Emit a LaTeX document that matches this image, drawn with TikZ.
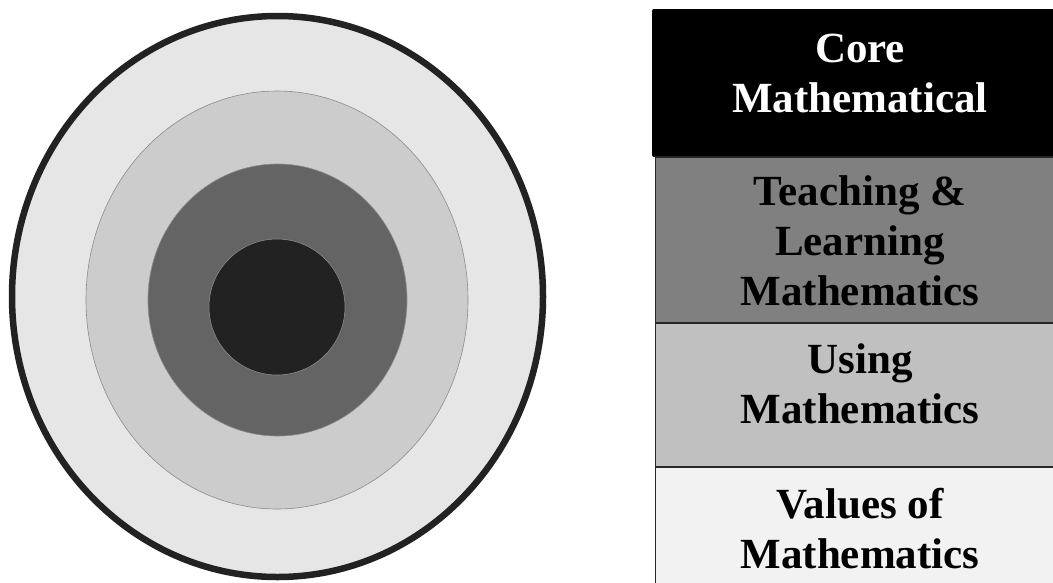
\documentclass[tikz,border=0pt]{standalone}
\usepackage{fontspec}
\setmainfont{Liberation Serif}
\definecolor{ringA}{HTML}{E6E6E6}
\definecolor{ringB}{HTML}{CCCCCC}
\definecolor{ringC}{HTML}{646464}
\definecolor{ringD}{HTML}{222222}
\definecolor{rowB}{HTML}{808080}
\definecolor{rowC}{HTML}{C0C0C0}
\definecolor{rowD}{HTML}{F2F2F2}
\begin{document}
\begin{tikzpicture}[x=1pt,y=-1pt,
  lbl/.style={inner sep=0pt, anchor=base, font=\fontsize{43}{50}\selectfont\bfseries},
  ringline/.style={draw=black!45, line width=0.6pt},
  rowbox/.style={draw=black!85, line width=1.2pt}]
\useasboundingbox (0,0) rectangle (1053,582);
\clip (0,0) rectangle (1053,582);
\fill[white] (0,0) rectangle (1053,582);
% concentric rings
\filldraw[fill=ringA, draw=ringD, line width=6.5pt] (277.5,296.5) ellipse [x radius=265.5, y radius=280.5];
\filldraw[fill=ringB, ringline] (277,300) ellipse [x radius=191, y radius=209];
\filldraw[fill=ringC, ringline] (277.5,300) ellipse [x radius=129.5, y radius=136];
\filldraw[fill=ringD, ringline] (277,307) ellipse [x radius=68, y radius=68];
% table rows
\fill[black, rounded corners=2pt] (652,9) rectangle (1075,157);
\filldraw[fill=rowB, rowbox] (655.5,157) rectangle (1075,323);
\filldraw[fill=rowC, rowbox] (655.5,323) rectangle (1075,467);
\filldraw[fill=rowD, rowbox] (655.5,467) rectangle (1075,600);
% labels
\node[lbl, text=white] (core) at (860,62) {\begin{tabular}[t]{@{}c@{}}Core\\Mathematical\end{tabular}};
\node[lbl] (teach) at (860,205) {\begin{tabular}[t]{@{}c@{}}Teaching \&\\Learning\\Mathematics\end{tabular}};
\node[lbl] (using) at (860,373) {\begin{tabular}[t]{@{}c@{}}Using\\Mathematics\end{tabular}};
\node[lbl] (values) at (860,518) {\begin{tabular}[t]{@{}c@{}}Values of\\Mathematics\end{tabular}};
\end{tikzpicture}
\end{document}
